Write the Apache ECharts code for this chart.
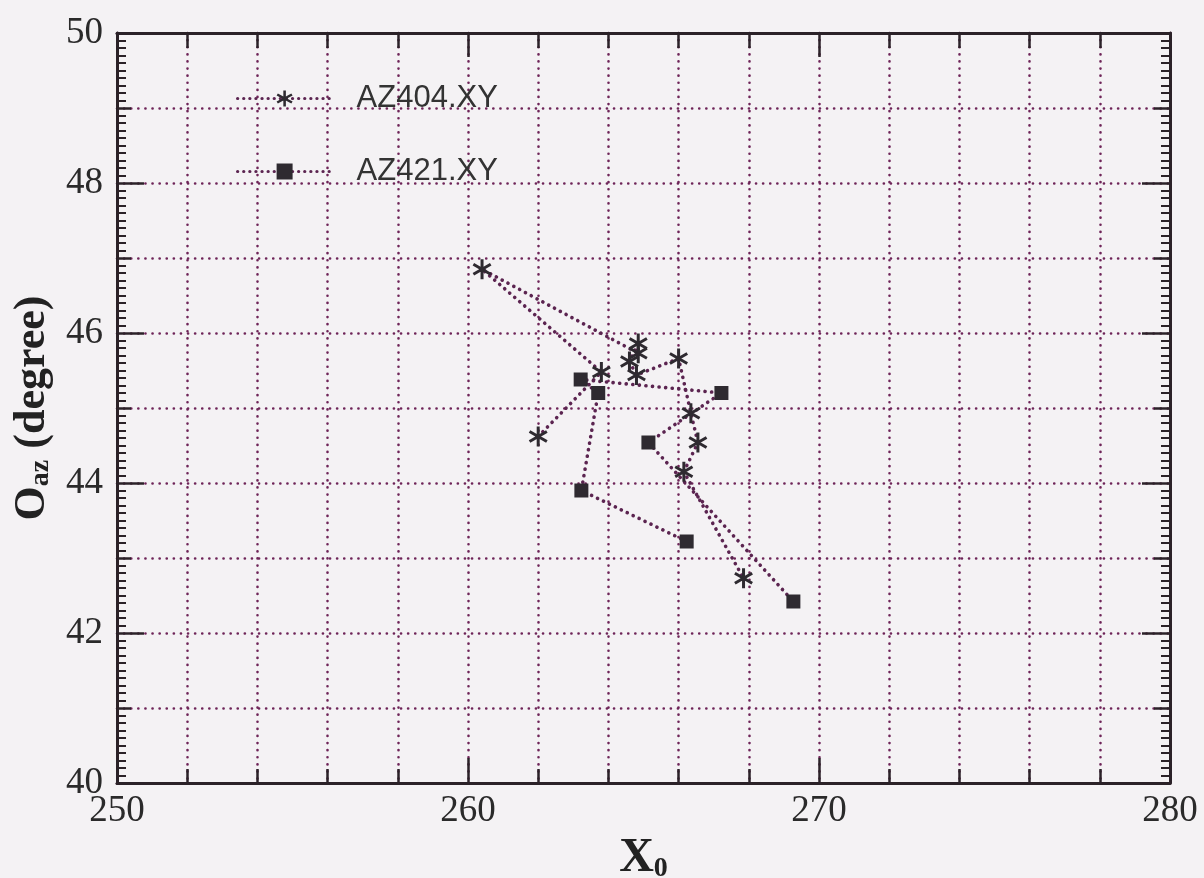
<!DOCTYPE html>
<html lang="en" style="height: 100%">
<head>
  <meta charset="utf-8">
  <title>AZ404 / AZ421</title>
</head>
<body style="height: 100%; margin: 0; background: #f4f2f4">
  <div id="container" style="width: 1204px; height: 878px"></div>

  <script type="text/javascript" src="https://cdn.jsdelivr.net/npm/echarts@6.0.0/dist/echarts.min.js"></script>

  <script type="text/javascript">
    // data
    var az404X = [262.0, 263.8, 260.4, 264.85, 264.85, 264.6, 264.8, 266.0, 266.35, 266.55, 266.15, 267.85];
    var az404Y = [44.62, 45.48, 46.85, 45.73, 45.86, 45.62, 45.44, 45.66, 44.93, 44.54, 44.15, 42.73];
    var az421X = [266.23, 263.23, 263.71, 263.21, 267.22, 265.14, 269.27];
    var az421Y = [43.22, 43.90, 45.20, 45.38, 45.20, 44.54, 42.42];
    var seriesNames = ['AZ404.XY', 'AZ421.XY'];

    var xMin = 250, xMax = 280;
    var yMin = 40, yMax = 50;

    function pairs(xs, ys) {
      return xs.map(function (x, i) { return [x, ys[i]]; });
    }

    var starPath = 'path://M-1.5 -10 L1.5 -10 L1.5 10 L-1.5 10 Z ' +
      'M-9.41 -3.7 L-7.91 -6.3 L9.41 3.7 L7.91 6.3 Z ' +
      'M-7.91 6.3 L-9.41 3.7 L7.91 -6.3 L9.41 -3.7 Z';

    var axisColor = '#2b2228';
    var gridColor = '#6e2458';
    var lineColor = '#5b2450';
    var markColor = '#2e2a30';
    var serif = '"Liberation Serif", "DejaVu Serif", serif';

    var gridLine = {
      show: true,
      lineStyle: { color: gridColor, width: 2.6, type: [0.1, 7], cap: 'round' }
    };
    var dotted = { color: lineColor, width: 3.6, type: [0.1, 6.5], cap: 'round' };

    function xAx(pos, interval, tickLen, withLabel, withSplit, withLine) {
      return {
        type: 'value', position: pos, min: xMin, max: xMax, interval: interval,
        axisLine: { show: withLine, onZero: false, lineStyle: { color: axisColor, width: 3 } },
        axisTick: { show: true, inside: true, length: tickLen, lineStyle: { color: axisColor, width: 2.5 } },
        axisLabel: { show: withLabel, color: '#2a2a2a', fontFamily: serif, fontSize: 37, margin: 10 },
        splitLine: withSplit ? gridLine : { show: false }
      };
    }

    function yAx(pos, interval, tickLen, withLabel, withSplit, withLine, minor) {
      return {
        type: 'value', position: pos, min: yMin, max: yMax, interval: interval,
        axisLine: { show: withLine, onZero: false, lineStyle: { color: axisColor, width: 3 } },
        axisTick: { show: true, inside: true, length: tickLen, lineStyle: { color: axisColor, width: 2.5 } },
        minorTick: { show: minor, splitNumber: 10, length: 9, lineStyle: { color: axisColor, width: 2 } },
        axisLabel: { show: withLabel, color: '#2a2a2a', fontFamily: serif, fontSize: 37, margin: 14 },
        splitLine: withSplit ? gridLine : { show: false }
      };
    }

    var xAxes = [
      xAx('bottom', 10, 25, true, false, true),
      xAx('bottom', 2, 14, false, true, false),
      xAx('top', 10, 24, false, false, true),
      xAx('top', 2, 15, false, false, false)
    ];
    xAxes[0].name = '{b|X}{s|0}';
    xAxes[0].nameLocation = 'middle';
    xAxes[0].nameGap = 52;
    xAxes[0].nameTextStyle = {
      rich: {
        b: { fontFamily: serif, fontWeight: 'bold', fontSize: 48, color: '#222' },
        s: { fontFamily: serif, fontWeight: 'bold', fontSize: 28, color: '#222', verticalAlign: 'bottom', padding: [14, 0, 0, 0] }
      }
    };

    var yAxes = [
      yAx('left', 2, 27, true, false, true, false),
      yAx('left', 1, 14, false, true, false, true),
      yAx('right', 2, 28, false, false, true, false),
      yAx('right', 1, 16, false, false, false, true)
    ];
    yAxes[0].name = '{b|O}{s|az}{b| (degree)}';
    yAxes[0].nameLocation = 'middle';
    yAxes[0].nameRotate = 90;
    yAxes[0].nameGap = 60;
    yAxes[0].nameTextStyle = {
      rich: {
        b: { fontFamily: serif, fontWeight: 'bold', fontSize: 44, color: '#222' },
        s: { fontFamily: serif, fontWeight: 'bold', fontSize: 28, color: '#222', verticalAlign: 'bottom', padding: [14, 0, 0, 0] }
      }
    };

    var dom = document.getElementById('container');
    var myChart = echarts.init(dom, null, { renderer: 'canvas' });

    var option = {
      backgroundColor: '#f4f2f4',
      animation: false,
      grid: { left: 117, right: 34, top: 33, bottom: 95, containLabel: false, outerBoundsMode: 'none' },
      legend: {
        orient: 'vertical',
        left: 231,
        top: 78,
        itemWidth: 94,
        itemHeight: 20,
        itemGap: 42,
        data: seriesNames,
        lineStyle: { width: 3.2, type: [0.1, 6], cap: 'round' },
        textStyle: { fontFamily: '"Liberation Sans", Arial, sans-serif', fontSize: 31, color: '#333', padding: [0, 0, 0, 20] }
      },
      xAxis: xAxes,
      yAxis: yAxes,
      series: [
        {
          name: seriesNames[0],
          type: 'line',
          xAxisIndex: 0, yAxisIndex: 0,
          data: pairs(az404X, az404Y),
          symbol: starPath,
          symbolSize: 20,
          symbolKeepAspect: true,
          showAllSymbol: true,
          lineStyle: dotted,
          itemStyle: { color: markColor }
        },
        {
          name: seriesNames[1],
          type: 'line',
          xAxisIndex: 0, yAxisIndex: 0,
          data: pairs(az421X, az421Y),
          symbol: 'rect',
          symbolSize: 14,
          showAllSymbol: true,
          lineStyle: dotted,
          itemStyle: { color: markColor }
        }
      ]
    };

    myChart.setOption(option);

    window.addEventListener('resize', function () {
      myChart.resize();
    });
  </script>
</body>
</html>
